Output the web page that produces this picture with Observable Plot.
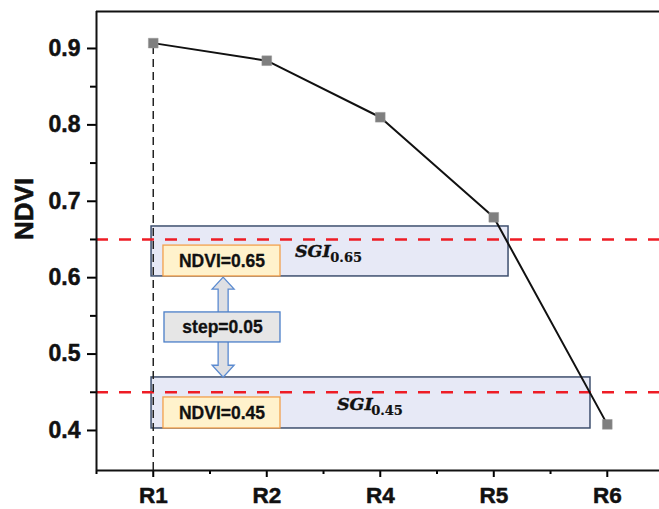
<!DOCTYPE html>
<html>
<head>
<meta charset="utf-8">
<script src="https://cdn.jsdelivr.net/npm/d3@7"></script>
<script src="https://cdn.jsdelivr.net/npm/@observablehq/plot@0.6"></script>
<style>
  html, body { margin: 0; padding: 0; background: white; }
</style>
</head>
<body>
<div id="chart"></div>
<script>
// ---- data ----
const categories = ["R1", "R2", "R4", "R5", "R6"];
const ndvi = [0.907, 0.884, 0.81, 0.679, 0.408];
const yTicks = [0.4, 0.5, 0.6, 0.7, 0.8, 0.9];
const yMinorTicks = [0.45, 0.55, 0.65, 0.75, 0.85];
const xMinorTicks = [0.5, 1.5, 2.5, 3.5, 4.5];
const thresholds = [0.65, 0.45];

// SGI bands (data units)
const sgiSub = ["0.65", "0.45"];
const sgiBandStart = [0.985, 0.985];
const sgiBandEnd = [4.13, 4.852];
const sgiBandBottom = [0.6016, 0.4026];
const sgiBandTop = [0.667, 0.4694];
const sgiLabelX = [2.248, 2.618];
const sgiLabelY = [0.6343, 0.434];
const sgiSubX = [2.56, 2.92];
const sgiSubY = [0.6258, 0.4262];

// NDVI boxes
const ndviBoxText = ["NDVI=0.65", "NDVI=0.45"];
const ndviBoxStart = [1.09, 1.09];
const ndviBoxEnd = [2.121, 2.121];
const ndviBoxBottom = [0.6016, 0.4026];
const ndviBoxTop = [0.642, 0.4432];

// step box and arrow
const stepText = ["step=0.05"];
const stepBox = [1.099, 2.121, 0.5152, 0.5545]; // x1, x2, y1, y2
const arrowX = 1.62;
const arrowFrom = 0.6;
const arrowTo = 0.469;

const xDomain = [0.5, 5.46];
const yDomain = [0.3476, 0.9484];

// ---- build tables ----
const points = categories.map((c, i) => ({c, x: i + 1, y: ndvi[i]}));
const bands = thresholds.map((t, i) => ({
  x1: sgiBandStart[i], x2: sgiBandEnd[i], y1: sgiBandBottom[i], y2: sgiBandTop[i],
  lx: sgiLabelX[i], ly: sgiLabelY[i], sx: sgiSubX[i], sy: sgiSubY[i], sub: sgiSub[i]
}));
const ndviBoxes = ndviBoxText.map((t, i) => ({
  text: t, x1: ndviBoxStart[i], x2: ndviBoxEnd[i], y1: ndviBoxBottom[i], y2: ndviBoxTop[i]
}));
const steps = stepText.map(t => ({text: t, x1: stepBox[0], x2: stepBox[1], y1: stepBox[2], y2: stepBox[3]}));

const font = "Liberation Sans, Arial, Helvetica, sans-serif";

function blockArrow(index, scales, values, dimensions, context) {
  const x = scales.x(arrowX), yt = scales.y(arrowFrom), yb = scales.y(arrowTo);
  const hw = 11, sw = 5, hl = 12;
  const d = `M${x},${yt} L${x + hw},${yt + hl} L${x + sw},${yt + hl} L${x + sw},${yb - hl} L${x + hw},${yb - hl} L${x},${yb} L${x - hw},${yb - hl} L${x - sw},${yb - hl} L${x - sw},${yt + hl} L${x - hw},${yt + hl} Z`;
  const path = d3.create("svg:path")
    .attr("d", d)
    .attr("fill", "#dedfe3")
    .attr("stroke", "#5a8ad0")
    .attr("stroke-width", 1.3)
    .attr("stroke-linejoin", "miter");
  return path.node();
}

const heavy = {fontWeight: "bold", fill: "#111", stroke: "#111", strokeWidth: 0.5};

const chart = Plot.plot({
  width: 659,
  height: 509,
  marginLeft: 96,
  marginRight: 0,
  marginTop: 11,
  marginBottom: 39,
  x: {domain: xDomain, label: null},
  y: {domain: yDomain, label: null},
  style: {fontFamily: font, background: "white", overflow: "visible"},
  marks: [
    Plot.rect(bands, {x1: "x1", x2: "x2", y1: "y1", y2: "y2", fill: "#e7e9f6", stroke: "#3e4f6e", strokeWidth: 1.5}),
    Plot.ruleY(thresholds, {stroke: "#ee1c25", strokeWidth: 2.5, strokeDasharray: "12,11"}),
    Plot.ruleX([1], {y1: yDomain[0], y2: ndvi[0], stroke: "#222", strokeWidth: 1.5, strokeDasharray: "8,5"}),
    Plot.line(points, {x: "x", y: "y", stroke: "#111", strokeWidth: 2}),
    Plot.dot(points, {x: "x", y: "y", symbol: "square", r: 5.5, fill: "#7f7f7f", stroke: "#999", strokeWidth: 0.5}),
    blockArrow,
    Plot.rect(ndviBoxes, {x1: "x1", x2: "x2", y1: "y1", y2: "y2", fill: "#fff2cc", stroke: "#f2a04c", strokeWidth: 1.3}),
    Plot.text(ndviBoxes, {x: d => (d.x1 + d.x2) / 2, y: d => (d.y1 + d.y2) / 2, text: "text", fontSize: 17.5, ...heavy, strokeWidth: 0.3}),
    Plot.rect(steps, {x1: "x1", x2: "x2", y1: "y1", y2: "y2", fill: "#e6e6e6", stroke: "#4a7ec8", strokeWidth: 1.3}),
    Plot.text(steps, {x: d => (d.x1 + d.x2) / 2, y: d => (d.y1 + d.y2) / 2, text: "text", fontSize: 17.5, ...heavy, strokeWidth: 0.3}),
    Plot.text(bands, {x: "lx", y: "ly", text: () => "SGI", textAnchor: "start", fontFamily: "DejaVu Serif, serif", fontStyle: "italic", fontSize: 17.5, ...heavy, strokeWidth: 0.4}),
    Plot.text(bands, {x: "sx", y: "sy", text: "sub", textAnchor: "start", fontFamily: "DejaVu Serif, serif", fontSize: 13, ...heavy, strokeWidth: 0.2}),
    // axes ticks
    Plot.axisY(yTicks, {tickSize: 9, tickFormat: () => "", strokeWidth: 2, label: null}),
    Plot.axisY(yMinorTicks, {tickSize: 6, tickFormat: () => "", strokeWidth: 2, label: null}),
    Plot.axisX([1, 2, 3, 4, 5], {tickSize: 7, tickFormat: () => "", strokeWidth: 2, label: null}),
    Plot.axisX(xMinorTicks, {tickSize: 4, tickFormat: () => "", strokeWidth: 2, label: null}),
    // tick labels
    Plot.text(yTicks, {x: xDomain[0], y: d => d, text: d => d.toFixed(1), dx: -16, textAnchor: "end", fontSize: 23, ...heavy}),
    Plot.text(categories, {x: (d, i) => i + 1, y: yDomain[0], text: d => d, dy: 17, lineAnchor: "top", fontSize: 22.5, ...heavy}),
    // frame lines
    Plot.ruleX([xDomain[0]], {stroke: "#111", strokeWidth: 2}),
    Plot.ruleY([yDomain[0], yDomain[1]], {stroke: "#111", strokeWidth: 2}),
    Plot.text(["NDVI"], {frameAnchor: "left", dx: -72, dy: -1, rotate: -90, text: d => d, fontSize: 26, ...heavy, strokeWidth: 0.6})
  ]
});
document.getElementById("chart").appendChild(chart);
</script>
</body>
</html>
